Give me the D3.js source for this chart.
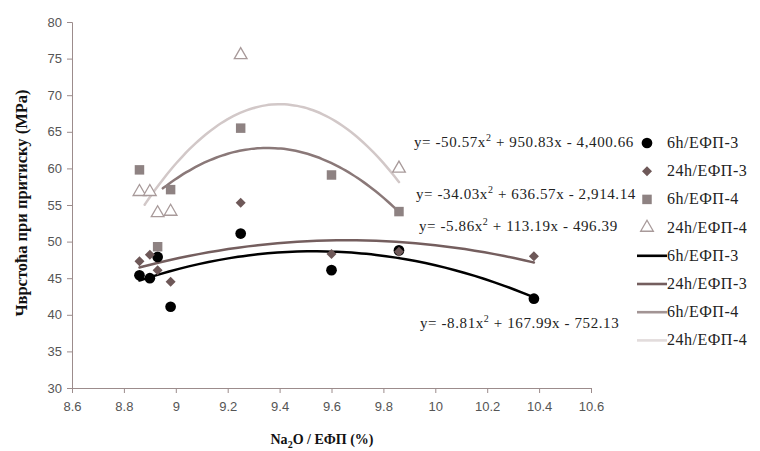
<!DOCTYPE html>
<html>
<head>
<meta charset="utf-8">
<script src="https://cdn.jsdelivr.net/npm/d3@7"></script>
<style>
  body { margin: 0; background: #fff; }
  svg { display: block; }
</style>
</head>
<body>
<div id="wrapper"></div>
<script>
// Na2O / ЕФП ratio (x) for every sample
const xValues = [8.86, 8.9, 8.93, 8.98, 9.25, 9.6, 9.86, 10.38];

// compressive strength (MPa), null where the series has no point
const strength6h3 = [45.4, 45.0, 47.9, 41.1, 51.1, 46.1, 48.8, 42.2];
const strength24h3 = [47.3, 48.2, 46.1, 44.5, 55.3, 48.3, 48.6, 48.0];
const strength6h4 = [59.8, null, 49.3, 57.1, 65.5, 59.1, 54.1, null];
const strength24h4 = [56.8, 56.8, 53.9, 54.1, 75.5, null, 60.0, null];

const seriesNames = ["6h/ЕФП-3", "24h/ЕФП-3", "6h/ЕФП-4", "24h/ЕФП-4"];

// polynomial trendlines as printed on the chart: [a, b, c] for a*x^2 + b*x + c
const trendCoefs = [
    [-8.81, 167.99, -752.13],
    [-5.86, 113.19, -496.39],
    [-34.03, 636.57, -2914.14],
    [-50.57, 950.83, -4400.66]
];
const trendRanges = [[8.86, 10.38], [8.86, 10.38], [8.95, 9.86], [8.88, 9.86]];

// equation texts: [before "2", after "2"]
const equationLabels = [
    ["y= -8.81x", " + 167.99x - 752.13"],
    ["y= -5.86x", " + 113.19x - 496.39"],
    ["y= -34.03x", " + 636.57x - 2,914.14"],
    ["y= -50.57x", " + 950.83x - 4,400.66"]
];

const xTicks = [8.6, 8.8, 9, 9.2, 9.4, 9.6, 9.8, 10, 10.2, 10.4, 10.6];
const yTicks = [30, 35, 40, 45, 50, 55, 60, 65, 70, 75, 80];

const dimensions = {
    width: 760,
    height: 451,
    margin: { top: 22, right: 169, bottom: 63, left: 72 }
};
dimensions.boundedWidth = dimensions.width - dimensions.margin.left - dimensions.margin.right;
dimensions.boundedHeight = dimensions.height - dimensions.margin.top - dimensions.margin.bottom;

const axisColor = "#9c8c8c";
const markerColors = ["#000000", "#6e5858", "#8e8282", "#a89a9a"];
const lineColors = ["#000000", "#745e5e", "#8a7878", "#d2c8c8"];
const legendLineColors = ["#000000", "#745e5e", "#a29494", "#e2dcdc"];

const svg = d3.select("#wrapper")
    .append("svg")
    .attr("width", dimensions.width)
    .attr("height", dimensions.height)
    .style("background", "#fff");

const bounds = svg.append("g")
    .attr("transform", `translate(${dimensions.margin.left},${dimensions.margin.top})`);

const xScale = d3.scaleLinear()
    .domain([8.6, 10.6])
    .range([0, dimensions.boundedWidth]);

const yScale = d3.scaleLinear()
    .domain([30, 80])
    .range([dimensions.boundedHeight, 0]);

// axes
const yAxis = bounds.append("g")
    .call(d3.axisLeft(yScale).tickValues(yTicks).tickSize(5).tickPadding(5).tickFormat(d3.format("d")));
const xAxis = bounds.append("g")
    .attr("transform", `translate(0,${dimensions.boundedHeight})`)
    .call(d3.axisBottom(xScale).tickValues(xTicks).tickSize(5).tickPadding(9).tickFormat(d => String(d)));

[xAxis, yAxis].forEach(ax => {
    ax.selectAll("path, line").attr("stroke", axisColor);
    ax.selectAll("text")
        .attr("fill", "#555")
        .style("font-family", "'Liberation Sans', Arial, sans-serif")
        .style("font-size", "13px");
});

// trendlines
const lineGen = d3.line()
    .x(d => xScale(d[0]))
    .y(d => yScale(d[1]))
    .curve(d3.curveBasis);

trendCoefs.forEach((c, i) => {
    const [x0, x1] = trendRanges[i];
    const pts = d3.range(0, 41).map(k => {
        const x = x0 + (x1 - x0) * k / 40;
        return [x, c[0] * x * x + c[1] * x + c[2]];
    });
    bounds.append("path")
        .datum(pts)
        .attr("fill", "none")
        .attr("stroke", lineColors[i])
        .attr("stroke-width", 2.5)
        .attr("stroke-linecap", "round")
        .attr("d", lineGen);
});

// markers
const symbolTypes = [d3.symbolCircle, d3.symbolSquare, d3.symbolSquare, d3.symbolTriangle];
const symbolSizes = [90, 50, 90, 70];
const allSeries = [strength6h3, strength24h3, strength6h4, strength24h4];

function drawMarker(g, i) {
    const p = g.append("path")
        .attr("d", d3.symbol().type(symbolTypes[i]).size(symbolSizes[i])());
    if (i === 1) p.attr("transform", "rotate(45)");
    if (i === 3) {
        p.attr("fill", "#fff").attr("stroke", markerColors[i]).attr("stroke-width", 1.3);
    } else {
        p.attr("fill", markerColors[i]);
    }
    return p;
}

allSeries.forEach((vals, i) => {
    const pts = xValues.map((x, k) => ({ x, y: vals[k] })).filter(d => d.y !== null);
    pts.forEach(d => {
        const g = bounds.append("g")
            .attr("transform", `translate(${xScale(d.x)},${yScale(d.y)})`);
        drawMarker(g, i);
    });
});

// equation labels
const serif = "'Liberation Serif', 'Times New Roman', serif";
const eqPos = [[420, 328], [419, 231], [416, 199], [414, 147]];
equationLabels.forEach((t, i) => {
    const txt = svg.append("text")
        .attr("x", eqPos[i][0])
        .attr("y", eqPos[i][1])
        .attr("fill", "#222")
        .style("font-family", serif)
        .style("font-size", "15px")
        .style("letter-spacing", "0.6px");
    txt.append("tspan").text(t[0]);
    txt.append("tspan").attr("dy", -6).style("font-size", "10px").text("2");
    txt.append("tspan").attr("dy", 6).text(t[1]);
});

// legend
const legend = svg.append("g");
const legendY = d3.range(8).map(k => 143 + k * 28.2);
seriesNames.forEach((name, i) => {
    const g = legend.append("g").attr("transform", `translate(647,${legendY[i]})`);
    drawMarker(g, i);
    g.append("text")
        .attr("x", 20).attr("y", 5)
        .attr("fill", "#222")
        .style("font-family", serif)
        .style("font-size", "16px")
        .style("letter-spacing", "0.5px")
        .text(name);
});
seriesNames.forEach((name, i) => {
    const g = legend.append("g").attr("transform", `translate(637,${legendY[i + 4]})`);
    g.append("line")
        .attr("x1", 0).attr("x2", 30)
        .attr("stroke", legendLineColors[i])
        .attr("stroke-width", 2.6);
    g.append("text")
        .attr("x", 30).attr("y", 5)
        .attr("fill", "#222")
        .style("font-family", serif)
        .style("font-size", "16px")
        .style("letter-spacing", "0.5px")
        .text(name);
});

// axis titles
svg.append("text")
    .attr("transform", `translate(27,${203}) rotate(-90)`)
    .attr("text-anchor", "middle")
    .attr("fill", "#111")
    .style("font-family", serif)
    .style("font-size", "16.5px")
    .style("font-weight", "bold")
    .text("Чврстоћа при притиску (MPa)");

const xTitle = svg.append("text")
    .attr("x", 322)
    .attr("y", 444)
    .attr("text-anchor", "middle")
    .attr("fill", "#111")
    .style("font-family", serif)
    .style("font-size", "14px")
    .style("font-weight", "bold");
xTitle.append("tspan").text("Na");
xTitle.append("tspan").attr("dy", 4).style("font-size", "10px").text("2");
xTitle.append("tspan").attr("dy", -4).text("O / ЕФП (%)");
</script>
</body>
</html>
